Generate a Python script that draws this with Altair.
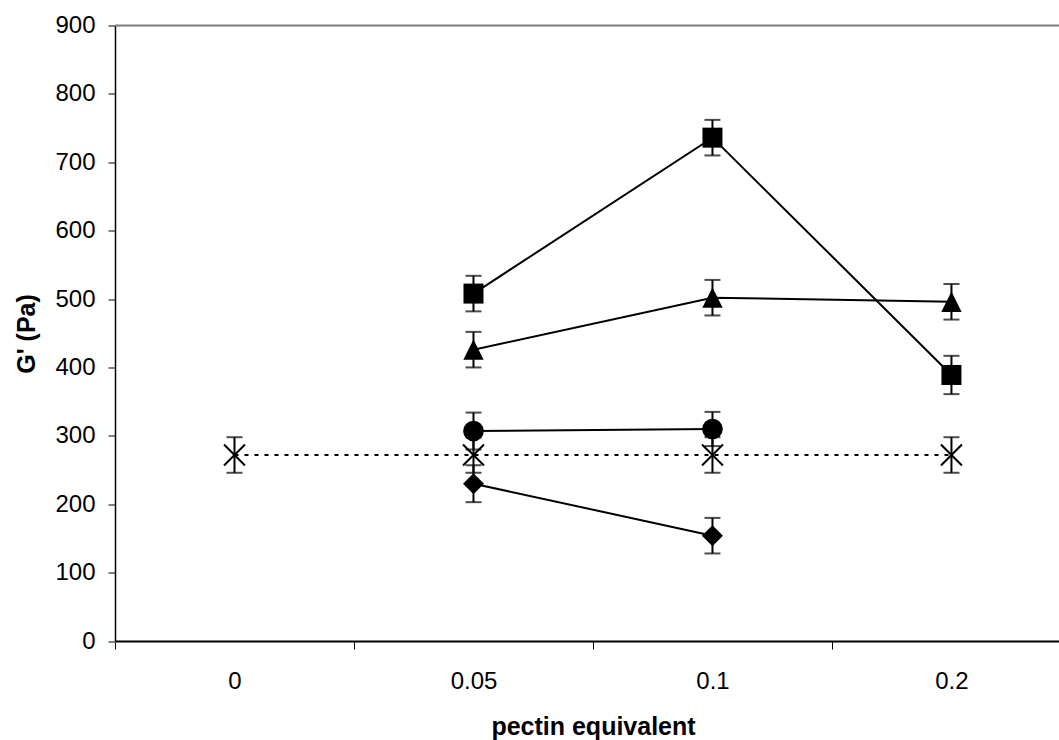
import altair as alt
import pandas as pd

categories = ["0", "0.05", "0.1", "0.2"]

sq_pos = [1, 2, 3]
sq_val = [508, 736, 389]
sq_err = [26, 26, 28]

tri_pos = [1, 2, 3]
tri_val = [426, 502, 496]
tri_err = [26, 26, 26]

cir_pos = [1, 2]
cir_val = [307, 310]
cir_err = [27, 25]

dia_pos = [1, 2]
dia_val = [230, 154]
dia_err = [27, 26]

ctl_pos = [0, 1, 2, 3]
ctl_val = [272, 272, 272, 272]
ctl_err = [26, 26, 26, 26]

rows = []
for name, P, V, E in [("square", sq_pos, sq_val, sq_err),
                      ("triangle", tri_pos, tri_val, tri_err),
                      ("circle", cir_pos, cir_val, cir_err),
                      ("diamond", dia_pos, dia_val, dia_err),
                      ("control", ctl_pos, ctl_val, ctl_err)]:
    for p, v, e in zip(P, V, E):
        rows.append({"series": name, "pos": p, "G": v, "lo": v - e, "hi": v + e})
df = pd.DataFrame(rows)

label_expr = " : ".join(
    f"datum.value < {i} ? '{c}'" for i, c in enumerate(categories[:-1])
) + f" : '{categories[-1]}'"

FONT = "Liberation Sans"

x = alt.X(
    "pos:Q",
    scale=alt.Scale(domain=[-0.5, 3.45], nice=False, zero=False),
    axis=alt.Axis(
        values=[-0.5, 0.5, 1.5, 2.5],
        labelExpr=label_expr,
        labelOffset=119.5,
        labelFlush=False,
        labelFontSize=24,
        labelColor="black",
        labelBaseline="alphabetic",
        labelPadding=39,
        tickSize=8,
        tickColor="black",
        tickWidth=1,
        domainColor="black",
        domainWidth=2,
        grid=False,
        title="pectin equivalent",
        titleFontSize=25,
        titleFontWeight="bold",
        titleColor="black",
        titleX=478,
        titleY=93,
        titleBaseline="alphabetic",
        titleAlign="center",
    ),
)

y = alt.Y(
    "G:Q",
    scale=alt.Scale(domain=[0, 900], nice=False),
    axis=alt.Axis(
        values=list(range(0, 1000, 100)),
        labelFontSize=24,
        labelColor="black",
        labelPadding=13,
        tickSize=7,
        tickColor="#808080",
        tickWidth=2,
        domainColor="black",
        domainWidth=1.5,
        grid=False,
        title="G' (Pa)",
        titleFontSize=25,
        titleFontWeight="bold",
        titleColor="black",
        titleX=-89,
        titleY=308,
        titleBaseline="middle",
        titleAlign="center",
        titleAngle=-90,
    ),
)

base = alt.Chart(df)

top_rule = alt.Chart(pd.DataFrame({"G": [900]})).mark_rule(
    color="#808080", strokeWidth=2
).encode(y=alt.Y("G:Q"))

lines = base.transform_filter("datum.series != 'control'").mark_line(
    color="black", strokeWidth=2
).encode(x=x, y=y, detail="series:N")

ctl_line = base.transform_filter("datum.series == 'control'").mark_line(
    color="black", strokeWidth=2, strokeDash=[4, 6]
).encode(x="pos:Q", y="G:Q")

err_v = base.mark_rule(color="black", strokeWidth=2).encode(
    x="pos:Q", y="lo:Q", y2="hi:Q"
)
cap_lo = base.mark_tick(color="black", orient="horizontal", size=16, thickness=2).encode(
    x="pos:Q", y="lo:Q"
)
cap_hi = base.mark_tick(color="black", orient="horizontal", size=16, thickness=2).encode(
    x="pos:Q", y="hi:Q"
)

shape_domain = ["square", "triangle", "circle", "diamond"]
shape_range = ["M-1,-1H1V1H-1Z", "M0,-1L1,1L-1,1Z", "circle", "M0,-1L1,0L0,1L-1,0Z"]
size_range = [400, 441, 400, 576]

pts = base.transform_filter("datum.series != 'control'").mark_point(
    filled=True, color="black", opacity=1
).encode(
    x="pos:Q",
    y="G:Q",
    shape=alt.Shape("series:N", scale=alt.Scale(domain=shape_domain, range=shape_range), legend=None),
    size=alt.Size("series:N", scale=alt.Scale(domain=shape_domain, range=size_range), legend=None),
)

ctl_pts = base.transform_filter("datum.series == 'control'").mark_point(
    filled=False, color="black", strokeWidth=2, size=441, opacity=1,
    shape="M-1,-1L1,1M1,-1L-1,1"
).encode(x="pos:Q", y="G:Q")

chart = alt.layer(
    lines, top_rule, ctl_line, err_v, cap_lo, cap_hi, pts, ctl_pts
).properties(
    width=944,
    height=615.5,
    autosize=alt.AutoSizeParams(type="none"),
    padding={"left": 115, "top": 25.5, "right": 0, "bottom": 99},
    background="white",
).configure_view(stroke=None).configure(font=FONT)

chart.save("out.html", embed_options={"renderer": "svg", "actions": False})
